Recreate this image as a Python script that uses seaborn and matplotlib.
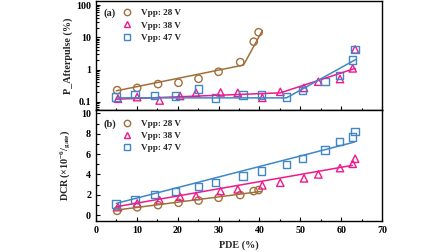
import numpy as np
import pandas as pd
import matplotlib
matplotlib.use("Agg")
import matplotlib.pyplot as plt
import seaborn as sns
from matplotlib.ticker import MultipleLocator, LogLocator, NullFormatter, FixedLocator, FixedFormatter
from matplotlib.lines import Line2D

# ---------------- data ----------------
series = ["Vpp: 28 V", "Vpp: 38 V", "Vpp: 47 V"]

pde_28 = [5.2, 10.1, 15.2, 20.2, 25.1, 30.0, 35.3, 38.6, 39.8]
ap_28 = [0.23, 0.27, 0.355, 0.39, 0.52, 0.855, 1.7, 7.3, 14.3]
dcr_28 = [0.42, 0.76, 0.98, 1.21, 1.43, 1.70, 1.97, 2.36, 2.46]

pde_38 = [5.4, 10.1, 15.6, 20.6, 24.5, 30.5, 34.7, 40.7, 45.1, 50.9, 54.4, 59.7, 62.8, 63.4]
ap_38 = [0.125, 0.14, 0.11, 0.152, 0.19, 0.196, 0.19, 0.133, 0.205, 0.27, 0.42, 0.51, 1.09, 4.2]
dcr_38 = [0.78, 1.15, 1.45, 1.8, 1.87, 2.36, 2.53, 2.92, 3.18, 3.61, 4.0, 4.62, 5.04, 5.54]

pde_47 = [4.9, 9.6, 14.3, 19.4, 25.1, 29.2, 36.0, 40.5, 46.6, 50.5, 56.0, 59.5, 62.8, 63.4]
ap_47 = [0.143, 0.17, 0.157, 0.152, 0.25, 0.133, 0.162, 0.162, 0.143, 0.22, 0.42, 0.67, 1.97, 4.2]
dcr_47 = [1.08, 1.54, 2.04, 2.29, 2.78, 3.18, 3.83, 4.33, 4.99, 5.58, 6.39, 7.21, 7.67, 8.19]

# fitted guide lines (knots)
fit_ap_28_x = [5.0, 36.1, 40.7]
fit_ap_28_y = [0.22, 1.38, 16.0]
fit_ap_38_x = [5.0, 45.1, 63.4]
fit_ap_38_y = [0.121, 0.19, 1.09]
fit_ap_47_x = [5.0, 46.6, 63.6]
fit_ap_47_y = [0.133, 0.133, 2.07]

fit_dcr_28_x = [5.0, 40.5]
fit_dcr_28_y = [0.49, 2.33]
fit_dcr_38_x = [5.0, 62.7]
fit_dcr_38_y = [0.82, 4.89]
fit_dcr_47_x = [5.0, 63.2]
fit_dcr_47_y = [1.15, 7.18]

xticks = [0, 10, 20, 30, 40, 50, 60, 70]
ap_ticks = [0.1, 1, 10, 100]
ap_ticklabels = ["0.1", "1", "10", "100"]
dcr_ticks = [0, 2, 4, 6, 8, 10]

colors = {"Vpp: 28 V": "#A0703C", "Vpp: 38 V": "#EE1A8C", "Vpp: 47 V": "#3F87C6"}
markers = {"Vpp: 28 V": "o", "Vpp: 38 V": "^", "Vpp: 47 V": "s"}

pts = pd.concat([
    pd.DataFrame({"PDE": pde_28, "AP": ap_28, "DCR": dcr_28, "V": series[0]}),
    pd.DataFrame({"PDE": pde_38, "AP": ap_38, "DCR": dcr_38, "V": series[1]}),
    pd.DataFrame({"PDE": pde_47, "AP": ap_47, "DCR": dcr_47, "V": series[2]}),
], ignore_index=True)

fit_ap = pd.concat([
    pd.DataFrame({"PDE": fit_ap_28_x, "val": fit_ap_28_y, "V": series[0]}),
    pd.DataFrame({"PDE": fit_ap_38_x, "val": fit_ap_38_y, "V": series[1]}),
    pd.DataFrame({"PDE": fit_ap_47_x, "val": fit_ap_47_y, "V": series[2]}),
], ignore_index=True)
fit_dcr = pd.concat([
    pd.DataFrame({"PDE": fit_dcr_28_x, "val": fit_dcr_28_y, "V": series[0]}),
    pd.DataFrame({"PDE": fit_dcr_38_x, "val": fit_dcr_38_y, "V": series[1]}),
    pd.DataFrame({"PDE": fit_dcr_47_x, "val": fit_dcr_47_y, "V": series[2]}),
], ignore_index=True)

# ---------------- style ----------------
sns.set_theme(style="ticks")
plt.rcParams["font.family"] = ["Liberation Serif", "DejaVu Serif"]
plt.rcParams["font.weight"] = "bold"
plt.rcParams["axes.labelweight"] = "bold"
plt.rcParams["mathtext.fontset"] = "custom"
plt.rcParams["mathtext.rm"] = "Liberation Serif:bold"
plt.rcParams["mathtext.it"] = "Liberation Serif:bold"
plt.rcParams["mathtext.bf"] = "Liberation Serif:bold"

fig = plt.figure(figsize=(4.48, 2.52), dpi=100)
ax1 = fig.add_axes([0.214, 0.562, 0.639, 0.434])
ax2 = fig.add_axes([0.214, 0.124, 0.639, 0.438])

for ax, ycol, fit in [(ax1, "AP", fit_ap), (ax2, "DCR", fit_dcr)]:
    sns.lineplot(data=fit, x="PDE", y="val", hue="V", palette=colors, ax=ax,
                 legend=False, linewidth=1.1, sort=False, estimator=None)
    sns.scatterplot(data=pts, x="PDE", y=ycol, hue="V", style="V", palette=colors,
                    markers=markers, ax=ax, s=28, linewidth=1.0, legend=False)
    for coll in ax.collections:
        fc = coll.get_facecolors()
        if len(fc):
            coll.set_edgecolors(fc)
            coll.set_facecolors("none")
    for s in ax.spines.values():
        s.set_linewidth(1.0)
        s.set_color("black")
    ax.set_xlim(0, 70)
    ax.xaxis.set_major_locator(FixedLocator(xticks))
    ax.xaxis.set_minor_locator(MultipleLocator(5))
    ax.tick_params(which="both", direction="in", top=False, right=False,
                   labelsize=7.2, width=0.8, colors="black")
    ax.tick_params(which="major", length=3)
    ax.tick_params(which="minor", length=1.8)
    ax.set_xlabel("")
    ax.set_ylabel("")

# top panel
ax1.set_yscale("log")
ax1.set_ylim(0.0545, 133)
ax1.yaxis.set_major_locator(FixedLocator(ap_ticks))
ax1.yaxis.set_major_formatter(FixedFormatter(ap_ticklabels))
ax1.yaxis.set_minor_locator(LogLocator(base=10, subs=np.arange(2, 10)))
ax1.yaxis.set_minor_formatter(NullFormatter())
ax1.tick_params(axis="x", labelbottom=False)
ax1.set_ylabel("P_Afterpulse (%)", fontsize=7.3, fontweight="bold", labelpad=2)

# bottom panel
ax2.set_ylim(-0.56, 10.3)
ax2.yaxis.set_major_locator(FixedLocator(dcr_ticks))
ax2.yaxis.set_minor_locator(MultipleLocator(1))
ax2.set_xlabel("PDE (%)", fontsize=7.3, fontweight="bold", labelpad=4)
ax2.set_ylabel(r"DCR$\,\left(\times10^{-6}/_{\mathrm{gate}}\right)$", fontsize=7.3,
               fontweight="bold", labelpad=6)

for lbl in ax1.get_yticklabels() + ax2.get_yticklabels() + ax2.get_xticklabels():
    lbl.set_fontweight("bold")

# legends
for ax, tag, ty, ly in [(ax1, "(a)", 0.885, 0.945), (ax2, "(b)", 0.873, 0.935)]:
    handles = [Line2D([], [], linestyle="none", marker=markers[s], markersize=4.6,
                      markerfacecolor="none", markeredgecolor=colors[s],
                      markeredgewidth=1.0) for s in series]
    leg = ax.legend(handles, series, loc="upper left", bbox_to_anchor=(0.085, ly),
                    frameon=False, fontsize=6.6, handlelength=1.0, handletextpad=1.1,
                    labelspacing=0.42, borderaxespad=0.0, borderpad=0.2)
    for t in leg.get_texts():
        t.set_fontweight("bold")
    ax.text(0.025, ty, tag, transform=ax.transAxes, fontsize=7.5, fontweight="bold",
            va="center", ha="left")

fig.savefig("out.png", dpi=100)
